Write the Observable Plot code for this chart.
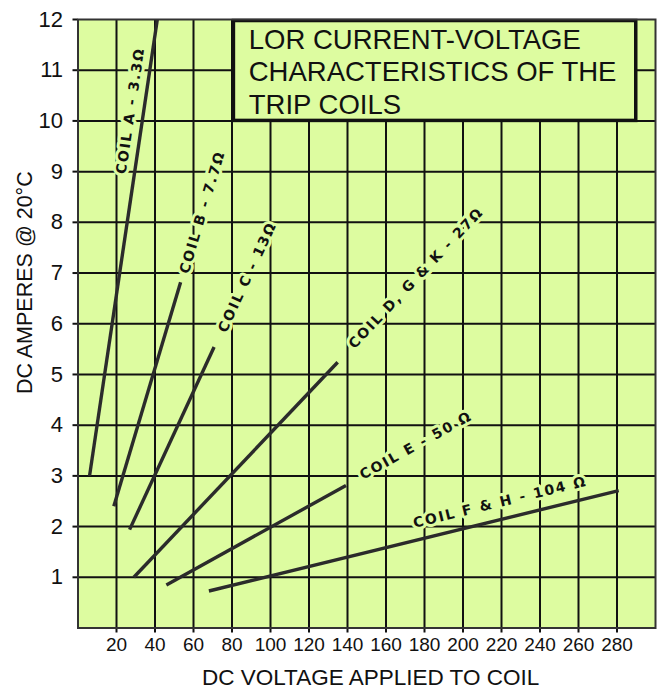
<!DOCTYPE html>
<html><head><meta charset="utf-8">
<script src="https://cdn.jsdelivr.net/npm/d3@7"></script>
<script src="https://cdn.jsdelivr.net/npm/@observablehq/plot@0.6"></script>
<style>body{margin:0;background:#fff} .coil-label text{letter-spacing:1.8px}</style>
</head><body><div id="chart"></div>
<script>
// ---- data ----
const coilNames  = ["A", "B", "C", "D", "E", "F"];
const labelText  = ["COIL A - 3.3\u03A9", "COIL B - 7.7\u03A9", "COIL C - 13\u03A9",
                    "COIL D, G & K - 27\u03A9", "COIL E - 50 \u03A9", "COIL F & H - 104 \u03A9"];
const voltStart  = [6, 18.6, 26.8, 29, 45.9, 68];
const ampStart   = [3, 2.4, 1.94, 1.0, 0.85, 0.73];
const voltEnd    = [41.2, 53.3, 70.7, 134.9, 139.2, 280.9];
const ampEnd     = [12, 6.82, 5.54, 5.24, 2.81, 2.71];
const labelVolt  = [27.3, 64.6, 88.0, 175.6, 175.6, 219.3];
const labelAmp   = [10.2, 8.2, 6.92, 6.9, 3.6, 2.48];
const xTicks     = [20, 40, 60, 80, 100, 120, 140, 160, 180, 200, 220, 240, 260, 280];
const yTicks     = [1, 2, 3, 4, 5, 6, 7, 8, 9, 10, 11, 12];
const titleLines = ["LOR CURRENT-VOLTAGE", "CHARACTERISTICS OF THE", "TRIP COILS"];
const titleBox   = [{x1: 81, x2: 290, y1: 10, y2: 11.97}];
const xLabel     = "DC VOLTAGE APPLIED TO COIL";
const yLabel     = "DC AMPERES @ 20\u00B0C";

// ---- layout ----
const W = 659, H = 690, mL = 77.5, mR = 4, mT = 19, mB = 62.5;
const xDomain = [0, 300], yDomain = [0, 12];
const kx = (W - mL - mR) / (xDomain[1] - xDomain[0]);
const ky = (H - mT - mB) / (yDomain[1] - yDomain[0]);
const bg = "#ddfca0";
const ink = "#111";

const segments = coilNames.map((c, i) => ({coil: c, x1: voltStart[i], y1: ampStart[i], x2: voltEnd[i], y2: ampEnd[i]}));
const labels = coilNames.map((c, i) => ({
  text: labelText[i], x: labelVolt[i], y: labelAmp[i],
  angle: Math.atan2(-(ampEnd[i] - ampStart[i]) * ky, (voltEnd[i] - voltStart[i]) * kx) * 180 / Math.PI
}));

const chart = Plot.plot({
  width: W, height: H,
  marginLeft: mL, marginRight: mR, marginTop: mT, marginBottom: mB,
  x: {domain: xDomain, axis: null},
  y: {domain: yDomain, axis: null},
  style: {fontFamily: "'Liberation Sans', Arial, sans-serif", background: "white", color: ink},
  marks: [
    Plot.frame({fill: bg, stroke: null}),
    Plot.gridX(xTicks, {stroke: ink, strokeOpacity: 1, strokeWidth: 2}),
    Plot.gridY(yTicks.filter(d => d < 12), {stroke: ink, strokeOpacity: 1, strokeWidth: 2}),
    Plot.axisX(xTicks, {tickSize: 5, tickPadding: 4.5, fontSize: 19, strokeWidth: 2, label: null, anchor: "bottom", tickFormat: d => String(d)}),
    Plot.axisY(yTicks, {tickSize: 5, tickPadding: 10, fontSize: 22, strokeWidth: 2, label: null, anchor: "left", tickFormat: d => String(d)}),
    Plot.rect(titleBox, {x1: "x1", x2: "x2", y1: "y1", y2: "y2", fill: bg, stroke: ink, strokeWidth: 3.5}),
    Plot.text([titleLines.join("\n")], {
      x: titleBox[0].x1 + 7.7, y: titleBox[0].y1 + 0.14, text: d => d,
      textAnchor: "start", lineAnchor: "bottom", lineHeight: 1.18,
      fontSize: 27.5, fill: ink
    }),
    Plot.link(segments, {x1: "x1", y1: "y1", x2: "x2", y2: "y2", stroke: "#2b2b2b", strokeWidth: 3.4, strokeLinecap: "butt"}),
    Plot.text(labels, {
      x: "x", y: "y", text: "text", rotate: "angle", className: "coil-label",
      fontFamily: "'DejaVu Sans', sans-serif", fontWeight: "bold", fontSize: 14,
      fill: ink, stroke: bg, strokeWidth: 6, textAnchor: "middle", lineAnchor: "middle"
    }),
    Plot.frame({stroke: "#333", strokeWidth: 2}),
    Plot.text([xLabel], {x: 152, y: -1.12, text: d => d, fontSize: 22.5, lineAnchor: "bottom", fill: ink}),
    Plot.text([yLabel], {x: -27.3, y: 6.81, text: d => d, fontSize: 21.5, rotate: -90, lineAnchor: "middle", fill: ink})
  ]
});
document.getElementById("chart").appendChild(chart);
</script>
</body></html>
